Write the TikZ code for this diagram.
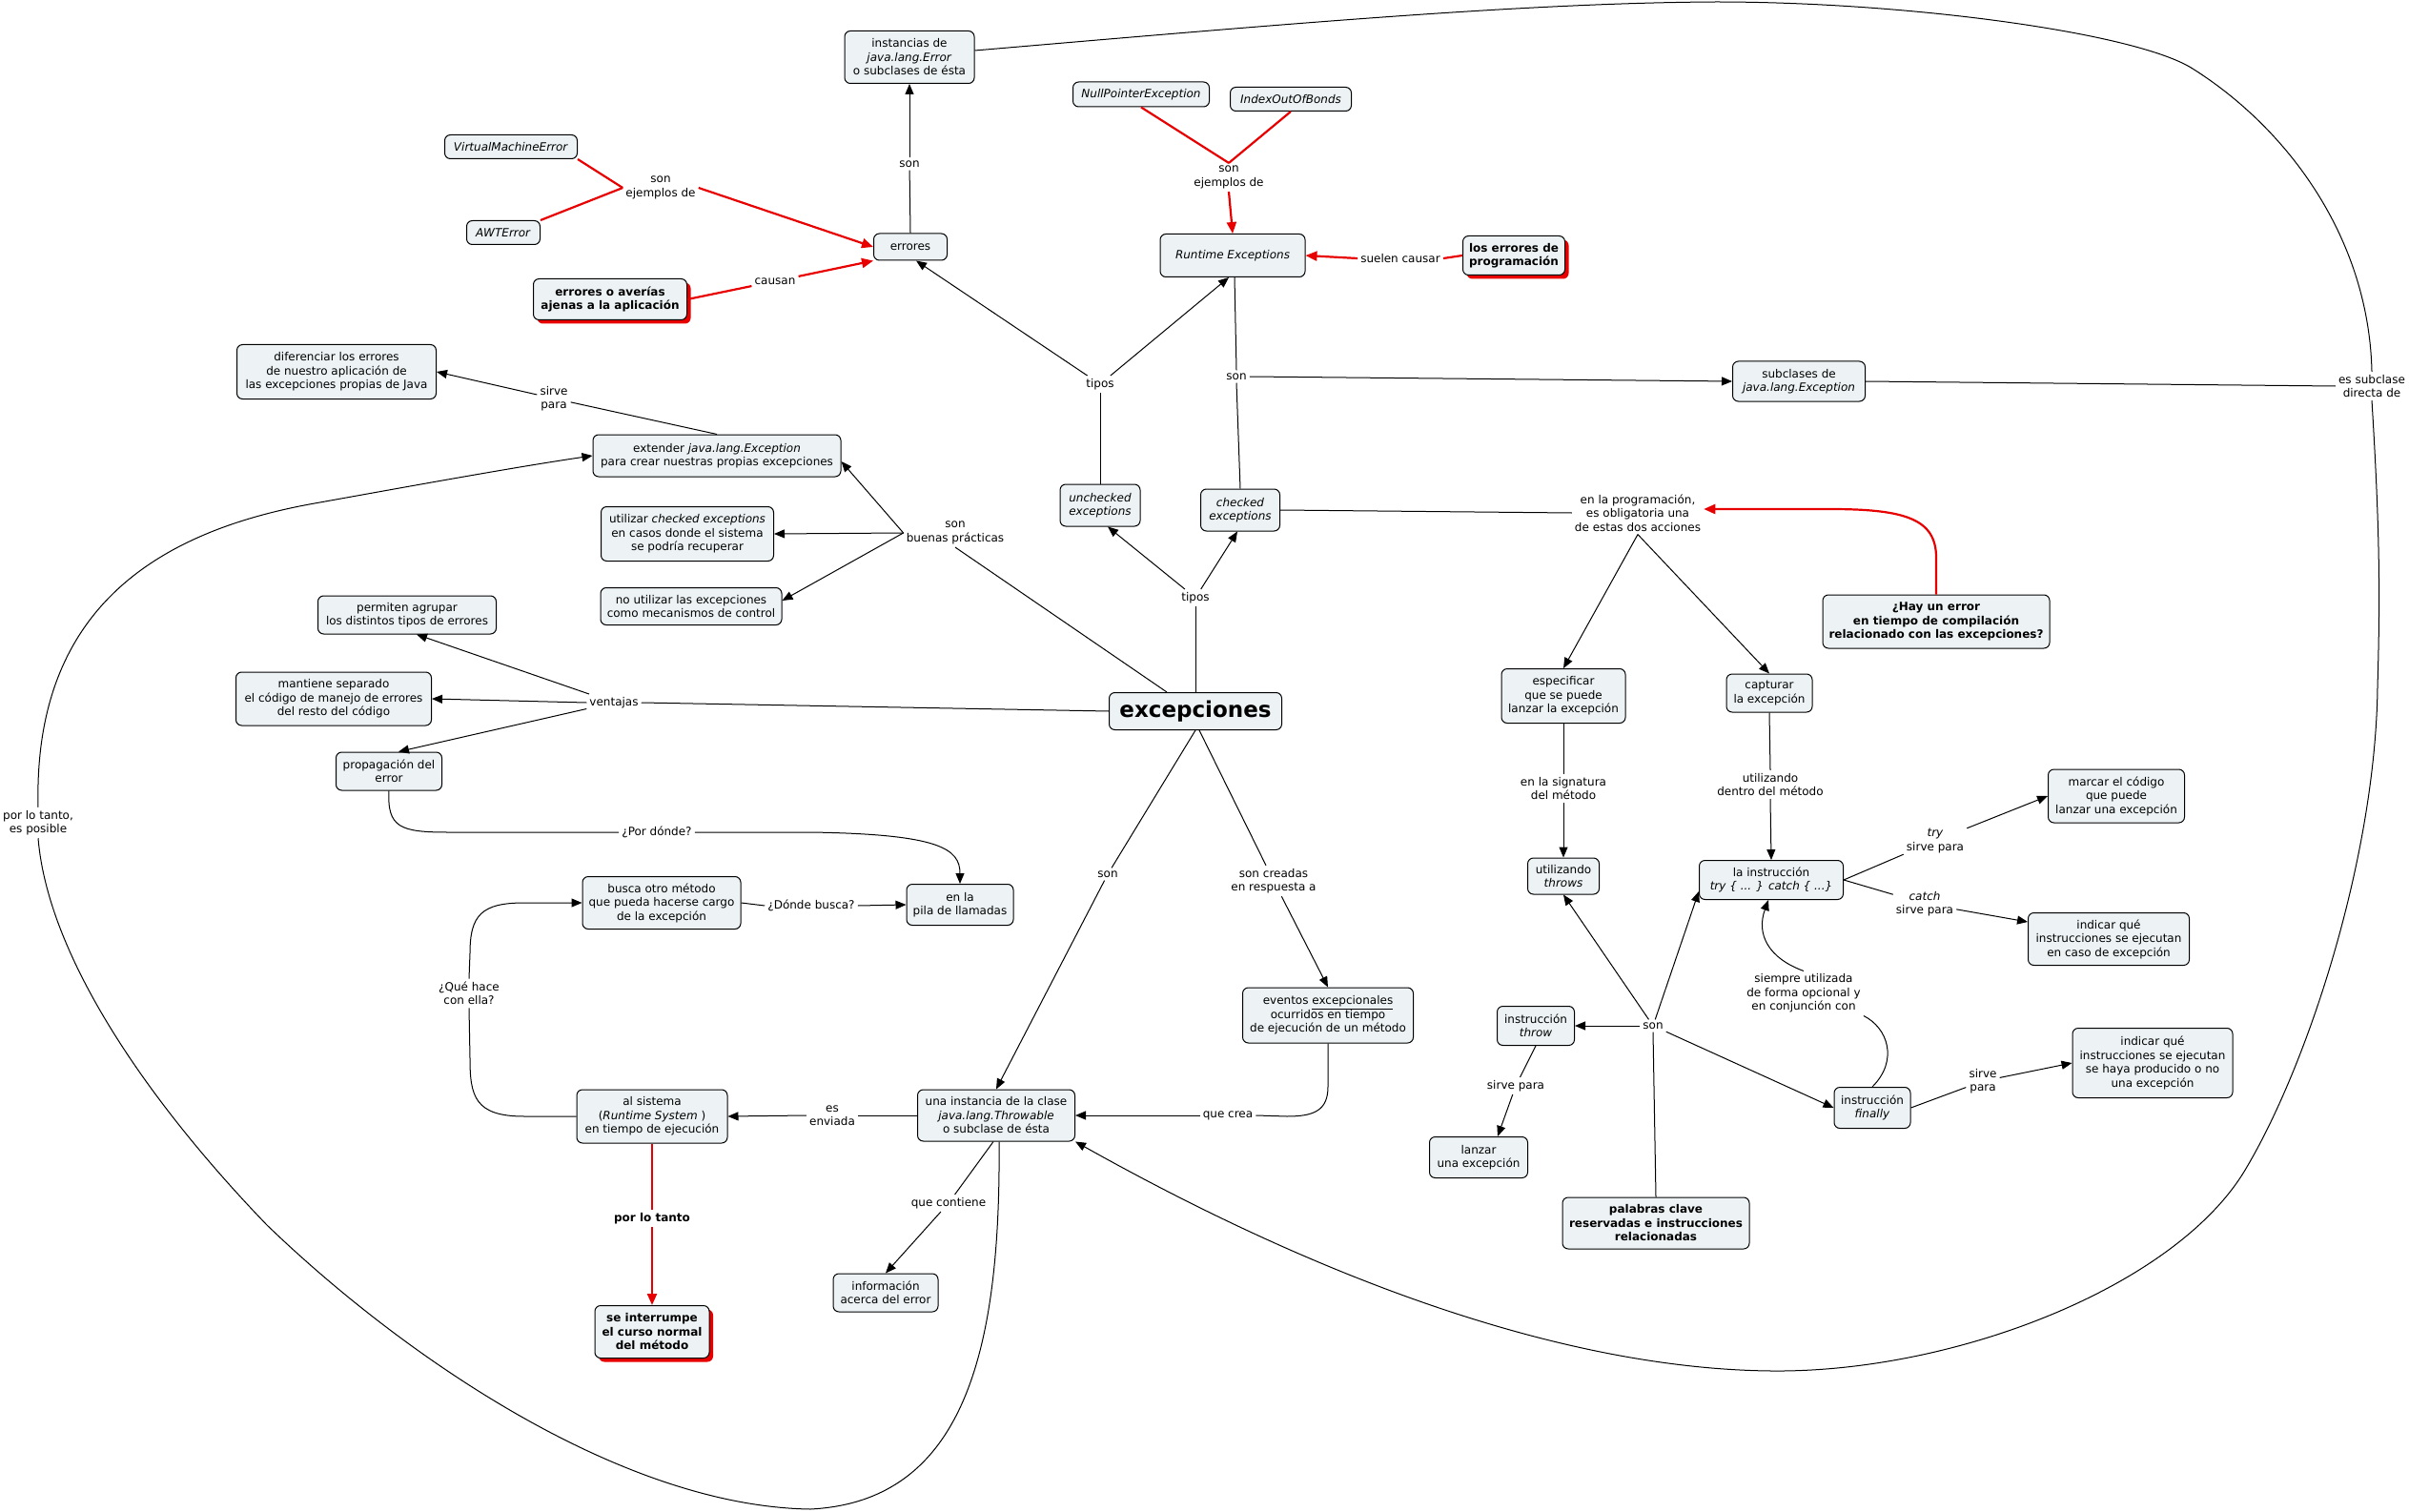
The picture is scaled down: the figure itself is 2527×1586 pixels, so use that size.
\documentclass[tikz,border=0pt]{standalone}
\usepackage{fontspec}
\setmainfont{DejaVu Sans}
\usetikzlibrary{arrows.meta,shadows}
\definecolor{boxfill}{RGB}{237,243,245}
\definecolor{cmred}{RGB}{232,0,0}
\newcommand{\cmfont}{\fontsize{12}{14.5}\selectfont}
\newcommand{\cmbold}{\fontsize{12}{14.5}\selectfont\bfseries}
\newcommand{\cmbig}{\fontsize{23}{27}\selectfont\bfseries}
\tikzset{
  wh/.style 2 args={minimum width=#1pt,minimum height=#2pt},
  concept/.style={draw, line width=1pt, rounded corners=6pt, fill=boxfill, align=center, font=\cmfont, inner sep=2pt},
  boldc/.style={concept, font=\cmbold},
  hot/.style={concept, font=\cmbold, drop shadow={shadow xshift=4pt,shadow yshift=-4pt,fill=cmred,opacity=1}},
  lbl/.style={align=center, font=\cmfont, inner sep=3pt},
  conn/.style={line width=1pt},
  arr/.style={conn, -{Triangle[length=11pt,width=9pt]}},
  rconn/.style={draw=cmred, line width=2.2pt},
  rarr/.style={rconn, -{Triangle[length=12pt,width=10pt]}}
}
\begin{document}
\begin{tikzpicture}[x=1pt,y=-1pt]
\useasboundingbox (0,0) rectangle (2527,1586);

% ---------- concepts ----------
\node[concept,wh={136}{55}] (instErr) at (954,60) {instancias de\\\textit{java.lang.Error}\\o subclases de ésta};
\node[concept,wh={139}{25}] (vme) at (536,154) {\textit{VirtualMachineError}};
\node[concept,wh={77}{25}] (awt) at (528,244) {\textit{AWTError}};
\node[concept,wh={77}{28}] (errores) at (955,259) {errores};
\node[hot,wh={161}{43}] (averias) at (640,314) {errores o averías\\ajenas a la aplicación};
\node[concept,wh={143}{26}] (npe) at (1197,99) {\textit{NullPointerException}};
\node[concept,wh={127}{25}] (ioob) at (1354,104) {\textit{IndexOutOfBonds}};
\node[concept,wh={152}{45}] (rte) at (1293,268) {\textit{Runtime Exceptions}};
\node[hot,wh={107}{41}] (progerr) at (1588,268) {los errores de\\programación};
\node[concept,wh={139}{42}] (subexc) at (1887,400) {subclases de\\\textit{java.lang.Exception}};
\node[concept,wh={209}{57}] (dif) at (353,390) {diferenciar los errores\\de nuestro aplicación de\\las excepciones propias de Java};
\node[concept,wh={260}{44}] (ext) at (752,478) {extender \textit{java.lang.Exception}\\para crear nuestras propias excepciones};
\node[concept,wh={84}{44}] (unchk) at (1154,530) {\textit{unchecked}\\\textit{exceptions}};
\node[concept,wh={83}{44}] (chk) at (1301,535) {\textit{checked}\\\textit{exceptions}};
\node[concept,wh={181}{57}] (utilizar) at (721,560) {utilizar \textit{checked exceptions}\\en casos donde el sistema\\se podría recuperar};
\node[concept,wh={190}{39}] (noutil) at (725,636) {no utilizar las excepciones\\como mecanismos de control};
\node[boldc,wh={238}{56}] (hay) at (2031,652) {¿Hay un error\\en tiempo de compilación\\relacionado con las excepciones?};
\node[concept,wh={187}{40}] (permiten) at (427,645) {permiten agrupar\\los distintos tipos de errores};
\node[concept,wh={205}{56}] (mantiene) at (350,733) {mantiene separado\\el código de manejo de errores\\del resto del código};
\node[concept,font=\cmbig,wh={181}{39}] (exc) at (1254,746) {excepciones};
\node[concept,wh={130}{57}] (espec) at (1640,730) {especificar\\que se puede\\lanzar la excepción};
\node[concept,wh={90}{40}] (capt) at (1856,727) {capturar\\la excepción};
\node[concept,wh={111}{40}] (prop) at (408,809) {propagación del\\error};
\node[concept,wh={143}{56}] (marcar) at (2220,835) {marcar el código\\que puede\\lanzar una excepción};
\node[concept,wh={75}{38}] (throws) at (1640,919) {utilizando\\\textit{throws}};
\node[concept,wh={151}{41}] (tc) at (1858,923) {la instrucción\\\textit{try \{ ... \} catch \{ ...\}}};
\node[concept,wh={166}{55}] (busca) at (694,947) {busca otro método\\que pueda hacerse cargo\\de la excepción};
\node[concept,wh={112}{43}] (pila) at (1007,949) {en la\\pila de llamadas};
\node[concept,wh={169}{55}] (ind1) at (2212,985) {indicar qué\\instrucciones se ejecutan\\en caso de excepción};
\node[concept,wh={179}{58}] (eventos) at (1393,1065) {eventos \underline{excepcionales}\\ocurridos en tiempo\\de ejecución de un método};
\node[concept,wh={81}{41}] (throw) at (1611,1076) {instrucción\\\textit{throw}};
\node[concept,wh={168}{73}] (ind2) at (2258,1115) {indicar qué\\instrucciones se ejecutan\\se haya producido o no\\una excepción};
\node[concept,wh={80}{43}] (finally) at (1964,1162) {instrucción\\\textit{finally}};
\node[concept,wh={158}{56}] (alsis) at (684,1171) {al sistema\\(\textit{Runtime System} )\\en tiempo de ejecución};
\node[concept,wh={165}{54}] (una) at (1045,1170) {una instancia de la clase\\\textit{java.lang.Throwable}\\o subclase de ésta};
\node[concept,wh={103}{43}] (lanzar) at (1551,1214) {lanzar\\una excepción};
\node[boldc,wh={196}{54}] (palabras) at (1737,1283) {palabras clave\\reservadas e instrucciones\\relacionadas};
\node[concept,wh={110}{40}] (info) at (929,1356) {información\\acerca del error};
\node[hot,wh={120}{55}] (interr) at (684,1397) {se interrumpe\\el curso normal\\del método};

% ---------- linking phrases ----------
\node[lbl] (lSonEj1) at (693,197) {son\\ejemplos de};
\node[lbl] (lCausan) at (813,295) {causan};
\node[lbl] (lSon1) at (954,172) {son};
\node[lbl] (lSonEj2) at (1289,186) {son\\ejemplos de};
\node[lbl] (lSuelen) at (1469,271) {suelen causar};
\node[lbl] (lTipos1) at (1154,403) {tipos};
\node[lbl] (lSon2) at (1297,395) {son};
\node[lbl] (lEsSub) at (2488,405) {es subclase\\directa de};
\node[lbl] (lSirve1) at (581,418) {sirve\\para};
\node[lbl] (lBuenas) at (1002,559) {son\\buenas prácticas};
\node[lbl] (lTipos2) at (1254,627) {tipos};
\node[lbl] (lProg) at (1718,538) {en la programación,\\es obligatoria una\\de estas dos acciones};
\node[lbl] (lVent) at (644,737) {ventajas};
\node[lbl] (lPorDonde) at (689,873) {¿Por dónde?};
\node[lbl] (lSig) at (1640,827) {en la signatura\\del método};
\node[lbl] (lUtil) at (1857,823) {utilizando\\dentro del método};
\node[lbl] (lTry) at (2030,882) {\textit{try}\\sirve para};
\node[lbl] (lCatch) at (2019,948) {\textit{catch}\\sirve para};
\node[lbl] (lSonMain) at (1162,917) {son};
\node[lbl] (lCreadas) at (1336,924) {son creadas\\en respuesta a};
\node[lbl] (lDonde) at (851,950) {¿Dónde busca?};
\node[lbl] (lSiempre) at (1892,1042) {siempre utilizada\\de forma opcional y\\en conjunción con};
\node[lbl] (lQue) at (492,1042) {¿Qué hace\\con ella?};
\node[lbl] (lSonR) at (1734,1076) {son};
\node[lbl] (lSirveF) at (2080,1134) {sirve\\para};
\node[lbl] (lSirveT) at (1590,1139) {sirve para};
\node[lbl] (lEnviada) at (873,1170) {es\\enviada};
\node[lbl] (lCrea) at (1288,1170) {que crea};
\node[lbl,font=\cmbold] (lPorTanto) at (684,1278) {por lo tanto};
\node[lbl] (lContiene) at (995,1262) {que contiene};
\node[lbl] (lPosible) at (40,863) {por lo tanto,\\es posible};

% ---------- red connectors ----------
\draw[rconn] (vme.south east) -- (lSonEj1.west);
\draw[rconn] (awt.north east) -- (lSonEj1.west);
\draw[rarr] (lSonEj1.east) -- (errores.west);
\draw[rconn] (averias.east) -- (lCausan);
\draw[rarr] (lCausan) -- (errores.south west);
\draw[rconn] (npe.south) -- (lSonEj2.north);
\draw[rconn] (ioob.south) -- (lSonEj2.north);
\draw[rarr] (lSonEj2.south) -- (rte.north);
\draw[rconn] (progerr.west) -- (lSuelen.east);
\draw[rarr] (lSuelen.west) -- (rte.east);
\draw[rconn] (alsis.south) -- (lPorTanto.north);
\draw[rarr] (lPorTanto.south) -- (interr.north);
\draw[rarr] (hay.north) -- (2031,585) .. controls (2031,545) and (2000,534) .. (1920,534) -- ([yshift=4pt]lProg.east);

% ---------- black connectors ----------
\draw[conn] (errores.north) -- (lSon1);
\draw[arr] (lSon1) -- (instErr.south);
\draw[conn] (unchk.north) -- (lTipos1.south);
\draw[arr] (lTipos1) -- ([xshift=6pt]errores.south);
\draw[arr] (lTipos1) -- ([xshift=-4pt]rte.south);
\draw[conn] ([xshift=2pt]rte.south) -- (lSon2.north);
\draw[conn] (chk.north) -- (lSon2.south);
\draw[arr] (lSon2.east) -- (subexc.west);
\draw[conn] (subexc.east) -- (lEsSub.west);
\draw[conn] ([yshift=7pt]instErr.east) .. controls (1350,25) and (1600,3) .. (1800,2)
   .. controls (2000,2) and (2240,34) .. (2300,72)
   .. controls (2400,135) and (2485,250) .. (lEsSub.north);
\draw[arr] (lEsSub.south) .. controls (2496,550) and (2497,620) .. (2494,720)
   .. controls (2492,900) and (2420,1120) .. (2354,1229)
   .. controls (2280,1350) and (2050,1440) .. (1858,1438)
   .. controls (1650,1436) and (1400,1350) .. (una.south east);

\draw[conn] (exc.north) -- (lTipos2.south);
\draw[arr] (lTipos2) -- ([xshift=8pt]unchk.south);
\draw[arr] (lTipos2) -- ([xshift=-3pt]chk.south);
\draw[conn] ([xshift=-30pt]exc.north) -- (lBuenas.south);
\draw[arr] (lBuenas.west) -- ([yshift=-6pt]ext.east);
\draw[arr] (lBuenas.west) -- (utilizar.east);
\draw[arr] (lBuenas.west) -- ([yshift=6pt]noutil.east);
\draw[conn] (ext.north) -- (lSirve1);
\draw[arr] (lSirve1) -- (dif.east);

\draw[conn] (exc.west) -- (lVent.east);
\draw[arr] (lVent) -- ([xshift=10pt]permiten.south);
\draw[arr] (lVent.west) -- (mantiene.east);
\draw[arr] (lVent) -- ([xshift=10pt]prop.north);
\draw[conn] (prop.south) .. controls (406,868) and (420,873) .. (470,873) -- (lPorDonde.west);
\draw[arr] (lPorDonde.east) -- (850,873) .. controls (985,875) and (1007,890) .. (pila.north);
\draw[conn] (busca.east) -- (lDonde.west);
\draw[arr] (lDonde.east) -- (pila.west);
\draw[conn] (alsis.west) -- (550,1171) .. controls (498,1171) and (493,1150) .. (493,1110) -- (lQue.south);
\draw[arr] (lQue.north) -- (493,1000) .. controls (493,960) and (505,947) .. (550,947) -- (busca.west);

\draw[conn] (exc.south) -- (lSonMain);
\draw[arr] (lSonMain) -- (una.north);
\draw[conn] ([xshift=4pt]exc.south) -- (lCreadas);
\draw[arr] (lCreadas) -- (eventos.north);
\draw[conn] (eventos.south) -- (1393,1140) .. controls (1393,1165) and (1378,1171) .. (1350,1171) -- (lCrea.east);
\draw[arr] (lCrea.west) -- (una.east);
\draw[conn] (una.west) -- (lEnviada.east);
\draw[arr] (lEnviada.west) -- (alsis.east);
\draw[conn] ([xshift=-3pt]una.south) -- (lContiene);
\draw[arr] (lContiene) -- (info.north);
\draw[conn] ([xshift=3pt]una.south) .. controls (1050,1420) and (1010,1575) .. (850,1583)
   .. controls (650,1580) and (420,1420) .. (280,1285)
   .. controls (150,1150) and (50,1000) .. (lPosible.south);
\draw[arr] (lPosible.north) .. controls (35,650) and (150,560) .. (330,528)
   .. controls (430,510) and (540,490) .. (ext.west);

\draw[conn] (chk.east) -- (lProg.west);
\draw[arr] (lProg.south) -- (espec.north);
\draw[arr] (lProg.south) -- (capt.north);
\draw[conn] (espec.south) -- (lSig.north);
\draw[arr] (lSig.south) -- (throws.north);
\draw[conn] (capt.south) -- (lUtil.north);
\draw[arr] (lUtil.south) -- (tc.north);
\draw[conn] (tc.east) -- (lTry);
\draw[arr] (lTry) -- (marcar.west);
\draw[conn] (tc.east) -- (lCatch);
\draw[arr] (lCatch) -- ([yshift=18pt]ind1.west);
\draw[conn] (finally.east) -- (lSirveF);
\draw[arr] (lSirveF) -- (ind2.west);
\draw[conn] (throw.south) -- (lSirveT);
\draw[arr] (lSirveT) -- ([xshift=20pt]lanzar.north);
\draw[conn] (palabras.north) -- (lSonR.south);
\draw[arr] (lSonR.west) -- (throw.east);
\draw[arr] (lSonR) -- (throws.south);
\draw[arr] (lSonR) -- ([yshift=9pt]tc.south west);
\draw[arr] (lSonR) -- (finally.west);
\draw[conn] (finally.north) .. controls (1992,1112) and (1980,1078) .. (lSiempre.south east);
\draw[arr] (lSiempre.north) .. controls (1855,1005) and (1842,980) .. ([xshift=-3pt]tc.south);
\end{tikzpicture}
\end{document}
